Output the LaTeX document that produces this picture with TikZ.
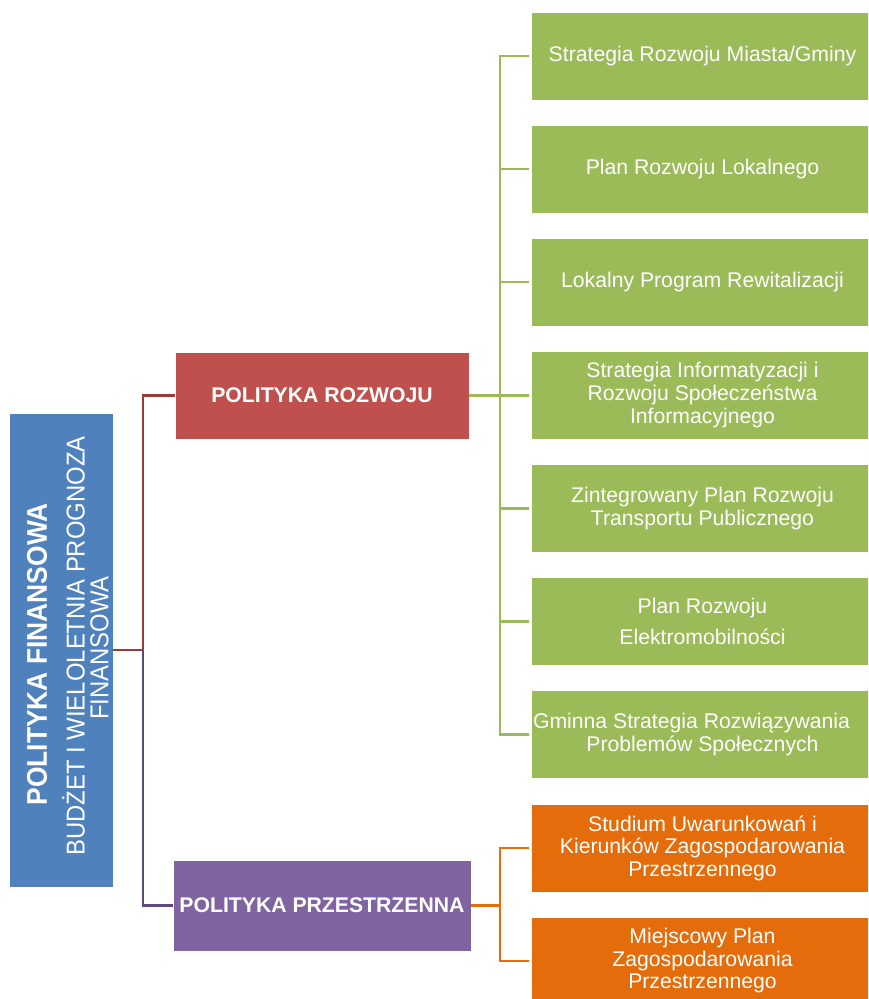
\documentclass[tikz,border=0pt]{standalone}
\usepackage{graphicx}
\usepackage{fontspec}
\setmainfont{Liberation Sans}
\definecolor{cblue}{HTML}{4F81BD}
\definecolor{cred}{HTML}{C0504D}
\definecolor{cgreen}{HTML}{9BBB59}
\definecolor{cpurple}{HTML}{8064A2}
\definecolor{corange}{HTML}{E46C0A}
\definecolor{credline}{HTML}{9B3A38}
\definecolor{cpurline}{HTML}{5F497A}
\begin{document}
\begin{tikzpicture}[x=1pt,y=-1pt,
  box/.style={draw=white, line width=0.8pt, inner sep=0pt, text=white, align=center},
  gbox/.style={box, fill=cgreen, minimum width=343pt, minimum height=88pt, font=\fontsize{21.2}{23}\selectfont},
  obox/.style={box, fill=corange, minimum width=343pt, minimum height=88pt, font=\fontsize{21.2}{22.5}\selectfont},
  hbox/.style={box, font=\fontsize{21.2}{23}\selectfont\bfseries},
  conn/.style={line width=2.4pt},
  bigtxt/.style={text=white, rotate=90, inner sep=0pt}
]
\useasboundingbox (0,0) rectangle (868,999);
\clip (0,0) rectangle (868,999);

% left main box
\node[box, fill=cblue, minimum width=104pt, minimum height=474pt] (blue) at (61,650) {};
\node[bigtxt, font=\fontsize{26.4}{28}\selectfont\bfseries] (t1) at (37,654.5) {\scalebox{1}[1.08]{POLITYKA FINANSOWA}};
\node[bigtxt, font=\fontsize{23.9}{26}\selectfont] (t2) at (73.5,646) {\scalebox{1}[1.08]{BUDŻET I WIELOLETNIA PROGNOZA}};
\node[bigtxt, font=\fontsize{23.9}{26}\selectfont] (t3) at (99.5,648) {\scalebox{1}[1.08]{FINANSOWA}};

% second level
\node[hbox, fill=cred, minimum width=294pt, minimum height=87pt] (red) at (322,395.5) {POLITYKA ROZWOJU};
\node[hbox, fill=cpurple, minimum width=298pt, minimum height=91pt] (pur) at (322,905.5) {POLITYKA PRZESTRZENNA};

% green boxes
\node[gbox] (g1) at (702.5,56) {Strategia Rozwoju Miasta/Gminy};
\node[gbox] (g2) at (702.5,169) {Plan Rozwoju Lokalnego};
\node[gbox] (g3) at (702.5,282) {Lokalny Program Rewitalizacji};
\node[gbox] (g4) at (702.5,395.5) {Strategia Informatyzacji i\\Rozwoju Społeczeństwa\\Informacyjnego};
\node[gbox] (g5) at (702.5,508.5) {Zintegrowany Plan Rozwoju\\Transportu Publicznego};
\node[gbox] (g6) at (702.5,621.5) {Plan Rozwoju\\[8pt]Elektromobilności};
\node[gbox] (g7) at (702.5,734.5) {\hspace*{-22pt}Gminna Strategia Rozwiązywania\\Problemów Społecznych};

% orange boxes
\node[obox] (o1) at (702.5,848) {Studium Uwarunkowań i\\Kierunków Zagospodarowania\\Przestrzennego};
\node[obox] (o2) at (702.5,961) {Miejscowy Plan\\Zagospodarowania\\Przestrzennego};

% connectors
\coordinate (sp) at (143,650);
\coordinate (gs) at (500,395.5);
\coordinate (os) at (500,905.5);
\draw[conn, credline] (blue.east) -- (sp) |- (red.west);
\draw[conn, cpurline] (sp) |- (pur.west);
\draw[conn, cgreen] (red.east) -- (gs);
\foreach \g in {g1,g2,g3,g4,g5,g6,g7} \draw[conn, cgreen] (gs) |- ([xshift=-2pt]\g.west);
\draw[conn, corange] (pur.east) -- (os);
\foreach \o in {o1,o2} \draw[conn, corange] (os) |- ([xshift=-2pt]\o.west);
\end{tikzpicture}
\end{document}
